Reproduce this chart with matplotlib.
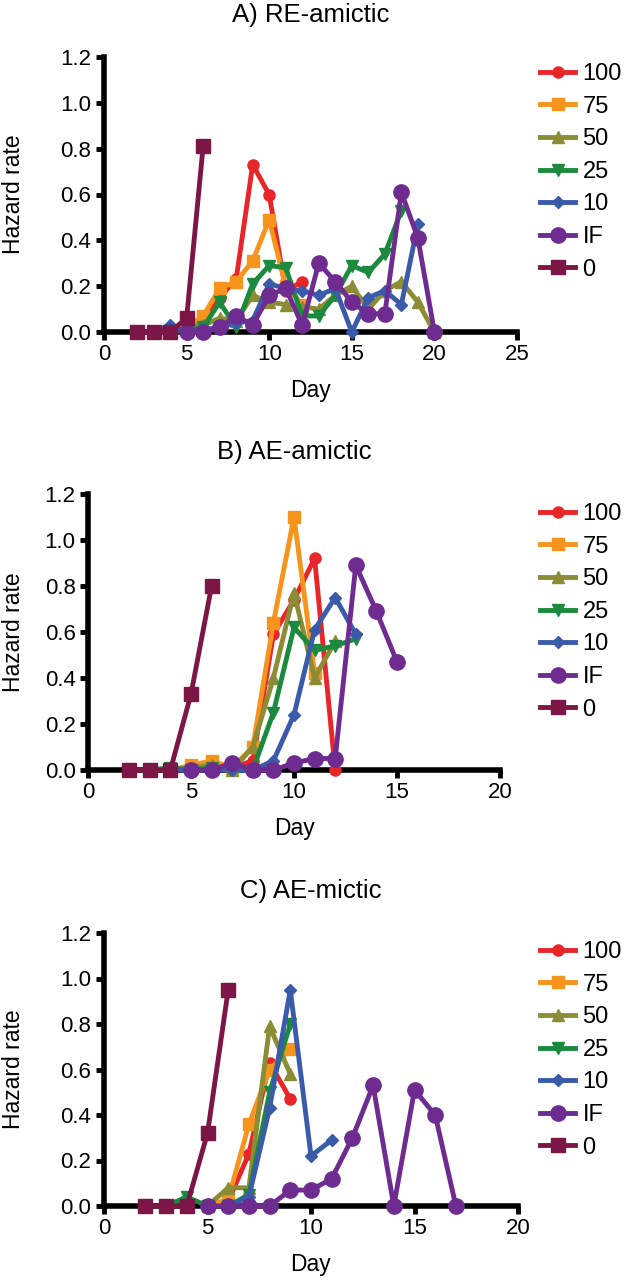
import matplotlib
matplotlib.use("Agg")
import matplotlib.pyplot as plt

plt.rcParams['font.family'] = ['Liberation Sans', 'DejaVu Sans']

# series order, colours and markers (as in the legend)
labels = ["100", "75", "50", "25", "10", "IF", "0"]
colors = ["#E8262A", "#F7941D", "#8C8C35", "#1B8A3E", "#3A5BA9", "#6E2C91", "#7B1646"]
markers = ["o", "s", "^", "v", "D", "o", "s"]
msizes = [8, 8, 9, 9, 6, 11, 10]

# A) RE-amictic
A_days = [
    [5, 6, 7, 8, 9, 10, 11, 12],
    [5, 6, 7, 8, 9, 10, 11, 12],
    [4, 5, 6, 7, 8, 9, 10, 11, 12, 13, 14, 15, 16, 17, 18, 19, 20],
    [4, 5, 6, 7, 8, 9, 10, 11, 12, 13, 14, 15, 16, 17, 18],
    [3, 4, 5, 6, 7, 8, 9, 10, 11, 12, 13, 14, 15, 16, 17, 18, 19],
    [5, 6, 7, 8, 9, 10, 11, 12, 13, 14, 15, 16, 17, 18, 19, 20],
    [2, 3, 4, 5, 6],
]
A_vals = [
    [0.01, 0.05, 0.15, 0.23, 0.73, 0.60, 0.18, 0.22],
    [0.02, 0.07, 0.19, 0.22, 0.31, 0.49, 0.20, 0.12],
    [0, 0.02, 0.03, 0.06, 0.05, 0.16, 0.13, 0.12, 0.11, 0.10, 0.16, 0.20, 0.10, 0.18, 0.22, 0.13, 0.0],
    [0, 0.01, 0.02, 0.13, 0.02, 0.21, 0.29, 0.28, 0.07, 0.07, 0.16, 0.29, 0.26, 0.34, 0.53],
    [0, 0.03, 0, 0.01, 0.02, 0.04, 0.05, 0.21, 0.19, 0.18, 0.16, 0.19, 0.0, 0.15, 0.18, 0.12, 0.47],
    [0, 0, 0.02, 0.07, 0.03, 0.16, 0.19, 0.03, 0.30, 0.22, 0.13, 0.08, 0.08, 0.61, 0.41, 0.0],
    [0, 0, 0, 0.06, 0.81],
]

# B) AE-amictic
B_days = [
    [4, 5, 6, 7, 8, 9, 10, 11, 12],
    [4, 5, 6, 7, 8, 9, 10, 11],
    [4, 5, 6, 7, 8, 9, 10, 11, 12],
    [3, 4, 5, 6, 7, 8, 9, 10, 11, 12, 13],
    [4, 5, 6, 7, 8, 9, 10, 11, 12, 13],
    [5, 6, 7, 8, 9, 10, 11, 12, 13, 14, 15],
    [2, 3, 4, 5, 6],
]
B_vals = [
    [0, 0.01, 0.01, 0.01, 0.04, 0.59, 0.74, 0.92, 0.0],
    [0, 0.02, 0.04, 0.01, 0.10, 0.64, 1.10, 0.42],
    [0, 0.01, 0.02, 0.0, 0.10, 0.40, 0.77, 0.40, 0.56],
    [0, 0.01, 0, 0.01, 0, 0, 0.25, 0.62, 0.52, 0.54, 0.57],
    [0, 0, 0, 0, 0, 0.04, 0.24, 0.61, 0.75, 0.59],
    [0, 0, 0.03, 0, 0, 0.03, 0.05, 0.05, 0.89, 0.69, 0.47],
    [0, 0, 0, 0.33, 0.80],
]

# C) AE-mictic
C_days = [
    [5, 6, 7, 8, 9],
    [5, 6, 7, 8, 9],
    [5, 6, 7, 8, 9],
    [3, 4, 5, 6, 7, 8, 9],
    [6, 7, 8, 9, 10, 11],
    [5, 6, 7, 8, 9, 10, 11, 12, 13, 14, 15, 16, 17],
    [2, 3, 4, 5, 6],
]
C_vals = [
    [0, 0.02, 0.23, 0.63, 0.47],
    [0, 0.03, 0.36, 0.60, 0.69],
    [0, 0.08, 0.08, 0.79, 0.58],
    [0, 0.04, 0, 0, 0.05, 0.50, 0.80],
    [0, 0.04, 0.43, 0.95, 0.22, 0.29],
    [0, 0, 0, 0, 0.07, 0.07, 0.12, 0.30, 0.53, 0, 0.51, 0.40, 0],
    [0, 0, 0, 0.32, 0.95],
]

titles = ["A) RE-amictic", "B) AE-amictic", "C) AE-mictic"]
xmax = [25, 20, 20]

W, H = 629, 1280
fig = plt.figure(figsize=(W / 100, H / 100), dpi=100)

# axes boxes in pixels: left, right, y of 0, y of 1.2
boxes = [(104, 517, 332, 57), (88, 500, 770, 494), (104, 518, 1206, 933)]
legend_top = [63, 503, 941]

panels = [(A_days, A_vals), (B_days, B_vals), (C_days, C_vals)]

for i, (days, vals) in enumerate(panels):
    l, r, y0, y1 = boxes[i]
    ax = fig.add_axes([l / W, 1 - y0 / H, (r - l) / W, (y0 - y1) / H])
    for k in range(len(labels)):
        ax.plot(days[k], vals[k], color=colors[k], marker=markers[k],
                markersize=msizes[k], lw=3.5, label=labels[k], clip_on=False,
                zorder=3 + k)
    ax.set_xlim(0, xmax[i])
    ax.set_ylim(0, 1.2)
    ax.set_xticks(range(0, xmax[i] + 1, 5))
    ax.set_yticks([0, 0.2, 0.4, 0.6, 0.8, 1.0, 1.2])
    ax.set_yticklabels(["0.0", "0.2", "0.4", "0.6", "0.8", "1.0", "1.2"])
    for s in ["top", "right"]:
        ax.spines[s].set_visible(False)
    for s in ["left", "bottom"]:
        ax.spines[s].set_linewidth(4)
    ax.tick_params(width=3.5, length=6, labelsize=16, pad=3, colors="black")
    ax.set_title(titles[i], fontsize=18.5, pad=25)
    ax.set_xlabel("Day", fontsize=16.5, labelpad=10)
    ax.set_ylabel("Hazard rate", fontsize=16.5)
    ax.yaxis.set_label_coords((25 - l) / (r - l), 0.5)
    ax.legend(loc="upper left", bbox_to_anchor=(540 / W, 1 - legend_top[i] / H),
              bbox_transform=fig.transFigure, frameon=False, fontsize=17,
              handlelength=1.5, handletextpad=0.3, labelspacing=0.45,
              borderpad=0, borderaxespad=0, numpoints=1)

fig.savefig("out.png", dpi=100)
